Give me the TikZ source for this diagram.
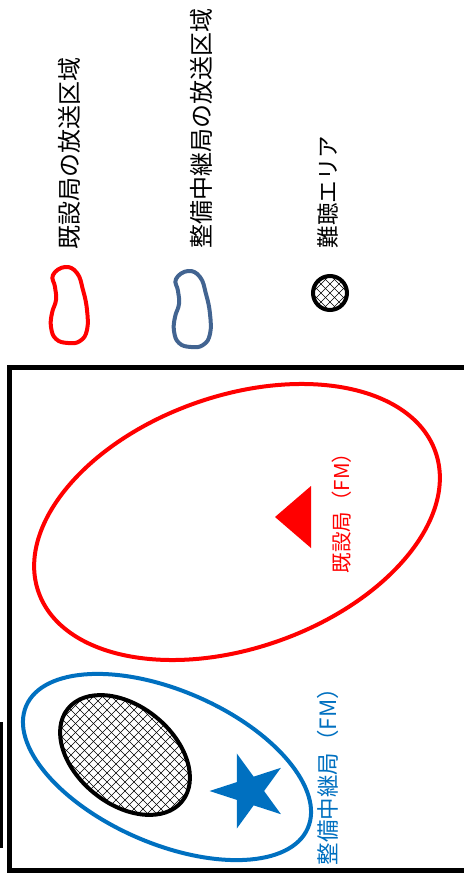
\documentclass[tikz,border=0pt]{standalone}
\usepackage{fontspec}
\newfontfamily\jp{Noto Sans CJK JP}
\usepackage{tikz}
\usetikzlibrary{shapes.geometric}
\definecolor{fmred}{RGB}{255,0,0}
\definecolor{fmblue}{RGB}{0,112,192}
\definecolor{legblue}{RGB}{66,100,145}
\tikzset{
x=1pt, y=-1pt, % one unit is one pixel of the picture, y grows downwards
legendtext/.style={rotate=90, inner sep=0pt, font=\jp\fontsize{24}{24}\selectfont}, % legend texts
stationtext/.style={rotate=90, inner sep=0pt, font=\jp\fontsize{20.5}{20.5}\selectfont}, % station labels
area/.style={line width=4pt}, % outlines of the areas
hatchline/.style={line width=0.6pt, black}, % lines of the cross hatching
bean/.pic={\draw[line width=4pt] plot[smooth cycle, tension=0.75] coordinates {
    (15,0) (27,6) (33,23) (37,43) (37,63) (30,74) (18,76) (6,72) (1,60) (2,46) (6,33) (5,20) (3,8)};}, % legend mark
}
\begin{document}
\begin{tikzpicture}
\useasboundingbox (0,0) rectangle (463,874);

% legend
\pic[fmred] at (50,267) {bean};
\pic[legblue] at (173,271) {bean};
\begin{scope}
    \clip (330,293) circle [radius=17pt];
    \foreach \k in {-36,-27,...,36}
        \draw[hatchline] (310+\k,273) -- ++(40,40) (310+\k,313) -- ++(40,-40);
\end{scope}
\draw[area] (330,293) circle [radius=17pt];
\node[legendtext] (legexist) at (69,154) {既設局の放送区域};
\node[legendtext] (legrelay) at (201,129) {整備中継局の放送区域};
\node[legendtext, font=\jp\fontsize{22.5}{22.5}\selectfont] (leghard) at (328,192) {難聴エリア};

% frame
\draw[line width=5pt] (475,367.5) -| (9.5,870) -- (475,870);
\draw[line width=5pt] (0.5,722) -- (0.5,848);

% existing station
\draw[area, fmred, rotate around={19.5:(237,522)}] (237,522) ellipse [x radius=210.5pt, y radius=126pt];
\fill[fmred] (275,517) -- (311,486) -- (311,548) -- cycle;
\node[stationtext, fmred] (exist) at (342,508) {既設局（FM）};

% relay station
\draw[area, fmblue, rotate around={-23.5:(167,767)}] (167,767) ellipse [x radius=153.5pt, y radius=76.5pt];
\begin{scope}
    \clip[rotate around={-39:(125,755)}] (125,755) ellipse [x radius=73.5pt, y radius=49pt];
    \foreach \k in {-171,-162,...,171}
        \draw[hatchline] (25+\k,655) -- ++(200,200) (25+\k,855) -- ++(200,-200);
\end{scope}
\draw[area, rotate around={-39:(125,755)}] (125,755) ellipse [x radius=73.5pt, y radius=49pt];
\node[star, star points=5, star point ratio=2.618, minimum size=79pt, inner sep=0pt,
      fill=fmblue, shape border rotate=90] (relaystar) at (249,791) {};
\node[stationtext, fmblue, font=\jp\fontsize{22.5}{22.5}\selectfont] (relay) at (328,771) {整備中継局（FM）};
\end{tikzpicture}
\end{document}
